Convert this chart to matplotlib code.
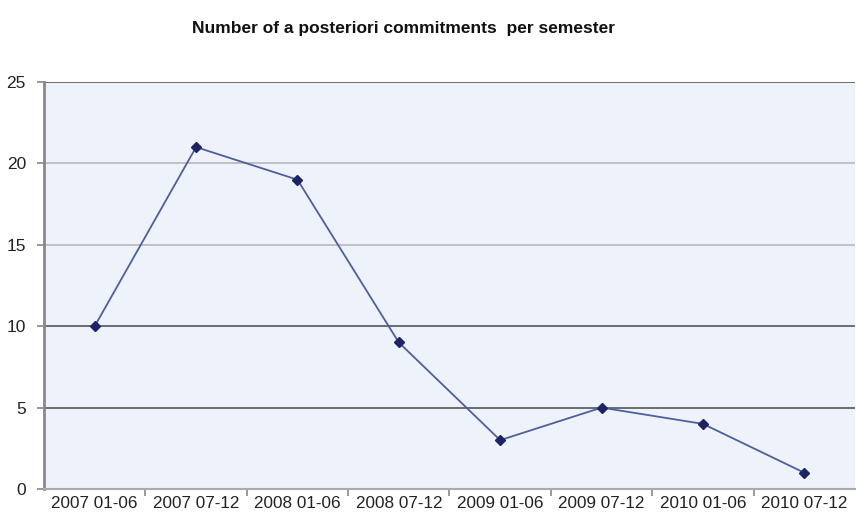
import matplotlib
matplotlib.use("Agg")
import matplotlib.pyplot as plt

categories = ["2007 01-06", "2007 07-12", "2008 01-06", "2008 07-12",
              "2009 01-06", "2009 07-12", "2010 01-06", "2010 07-12"]
values = [10, 21, 19, 9, 3, 5, 4, 1]
yticks = [0, 5, 10, 15, 20, 25]

plt.rcParams['font.family'] = ['Liberation Sans', 'DejaVu Sans']

fig = plt.figure(figsize=(8.56, 5.19), dpi=100)
ax = fig.add_axes([44/856, 1-489/519, 811/856, (489-82)/519])
ax.set_facecolor('#eef2fa')

x = list(range(len(categories)))
ax.plot(x, values, color='#4e5f9e', lw=1.3, marker='D', ms=5,
        mfc='#1c2466', mec='#1c2466', zorder=3)

ax.set_xlim(-0.5, len(categories)-0.5)
ax.set_ylim(0, 25)
ax.set_yticks(yticks)
ax.set_yticklabels([str(t) for t in yticks], fontsize=12.5, color='#222222')
for t in yticks[1:]:
    c = '#555555' if t in (5, 10, 25) else '#b8b8b8'
    ax.axhline(t, color=c, lw=1.2, zorder=1)

ax.set_xticks([i+0.5 for i in range(len(categories)-1)])
ax.set_xticklabels([])
ax.set_xticks(x, minor=True)
ax.set_xticklabels(categories, minor=True, fontsize=12.3, color='#222222')
ax.tick_params(axis='x', which='minor', length=0, pad=5)
ax.tick_params(axis='x', which='major', length=5, color='#888888', direction='out', width=1.2)
ax.tick_params(axis='y', length=5, color='#888888', width=1.2, pad=8)

for s in ['top', 'right']:
    ax.spines[s].set_visible(False)
ax.spines['left'].set_color('#888888')
ax.spines['left'].set_linewidth(2)
ax.spines['bottom'].set_color('#aaaaaa')
ax.spines['bottom'].set_linewidth(1.5)

fig.text(403/856, 1-28/519, "Number of a posteriori commitments  per semester",
         ha='center', va='center', fontsize=12.5, fontweight='bold', color='#111111')

fig.savefig('out.png', dpi=100)
